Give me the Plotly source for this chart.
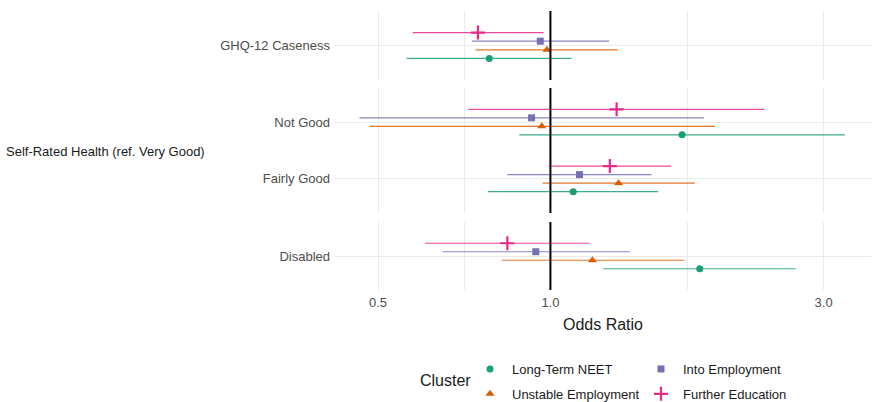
import numpy as np
import plotly.graph_objects as go

# ---------------- data ----------------
measures = ["GHQ-12 Caseness", "Not Good", "Fairly Good", "Disabled"]
measure_panel = [1, 2, 2, 3]          # facet row of each measure
measure_pos = [1, 2, 1, 1]            # position within facet (ggplot: bottom = 1)
panel_ncat = [1, 2, 1]                # categories in each facet

clusters = ["Long-Term NEET", "Unstable Employment", "Into Employment", "Further Education"]
colors = ["#1b9e77", "#d95f02", "#7570b3", "#e7298a"]
line_colors = ["rgba(27,158,119,0.85)", "rgba(217,95,2,0.85)", "rgba(117,112,179,0.85)", "rgba(231,41,138,0.85)"]
symbols = ["circle", "triangle-up", "square", "cross-thin"]
sizes = [7, 8, 7, 10]

# odds ratios (order of measures above)
or_neet = [0.782, 1.698, 1.096, 1.823]
lo_neet = [0.561, 0.882, 0.778, 1.237]
hi_neet = [1.089, 3.268, 1.543, 2.682]

or_unstable = [0.986, 0.966, 1.315, 1.184]
lo_unstable = [0.740, 0.483, 0.969, 0.822]
hi_unstable = [1.312, 1.938, 1.788, 1.712]

or_employ = [0.960, 0.927, 1.124, 0.943]
lo_employ = [0.729, 0.464, 0.841, 0.649]
hi_employ = [1.266, 1.855, 1.502, 1.376]

or_educ = [0.747, 1.305, 1.270, 0.841]
lo_educ = [0.575, 0.719, 0.993, 0.604]
hi_educ = [0.973, 2.365, 1.625, 1.170]

ors = [or_neet, or_unstable, or_employ, or_educ]
los = [lo_neet, lo_unstable, lo_employ, lo_educ]
his = [hi_neet, hi_unstable, hi_employ, hi_educ]

xticks = [0.5, 1.0, 3.0]
xticklabels = ["0.5", "1.0", "3.0"]
minor_x = [np.sqrt(0.5), np.sqrt(3.0)]

# ---------------- layout geometry ----------------
W, H = 872, 402
ML, MR, MT, MB = 335, 1, 11, 112
PW = W - ML - MR
PH = H - MT - MB

def px_x(px):
    return (px - ML) / PW

def px_y(py):
    return (H - MB - py) / PH

panel_px = [(11, 80), (88, 213), (222, 290)]   # top, bottom pixel of each facet
FONT = "Liberation Sans, Arial, sans-serif"

dodge_w = 0.6
n = len(clusters)
offsets = [(-dodge_w / 2 + dodge_w / n * (i + 0.5)) for i in range(n)]

fig = go.Figure()

for ci, cl in enumerate(clusters):
    legend_name = "legend" if ci in (0, 1) else "legend2"
    first = True
    for p in range(1, 4):
        idx = [m for m in range(len(measures)) if measure_panel[m] == p]
        xs = [ors[ci][m] for m in idx]
        ys = [measure_pos[m] + offsets[ci] for m in idx]
        plus = [his[ci][m] - ors[ci][m] for m in idx]
        minus = [ors[ci][m] - los[ci][m] for m in idx]
        yname = "y" if p == 1 else f"y{p}"
        xname = "x" if p == 1 else f"x{p}"
        fig.add_trace(go.Scatter(
            x=xs, y=ys, mode="markers", name=cl,
            xaxis=xname, yaxis=yname,
            legendgroup=cl, showlegend=first, legend=legend_name,
            marker=dict(symbol=symbols[ci], size=sizes[ci], color=colors[ci],
                        line=dict(width=2.2 if symbols[ci] == "cross-thin" else 0, color=colors[ci])),
            error_x=dict(type="data", symmetric=False, array=plus, arrayminus=minus,
                         color=line_colors[ci], thickness=1.2, width=0),
        ))
        first = False

rng = [np.log10(0.4205), np.log10(3.63)]
layout = dict(
    width=W, height=H,
    margin=dict(l=ML, r=MR, t=MT, b=MB, autoexpand=False),
    paper_bgcolor="white", plot_bgcolor="white",
    font=dict(family=FONT, size=13, color="#4d4d4d"),
    showlegend=True,
)
for p in range(1, 4):
    top, bot = panel_px[p - 1]
    ysuf = "" if p == 1 else str(p)
    cats = [m for m in range(len(measures)) if measure_panel[m] == p]
    layout["yaxis" + ysuf] = dict(
        domain=[px_y(bot), px_y(top)],
        anchor="x" + ysuf,
        range=[0.4, panel_ncat[p - 1] + 0.6],
        tickmode="array",
        tickvals=[measure_pos[m] for m in cats],
        ticktext=[measures[m] for m in cats],
        showgrid=True, gridcolor="#ebebeb", gridwidth=1,
        zeroline=False, showline=False, ticks="",
        ticklabelstandoff=4, automargin=False,
        tickfont=dict(size=13, color="#4d4d4d"),
    )
    layout["xaxis" + ysuf] = dict(
        type="log", range=rng,
        anchor="y" + ysuf,
        domain=[0, 1], automargin=False,
        tickmode="array", tickvals=xticks, ticktext=xticklabels,
        showticklabels=(p == 3),
        showgrid=True, gridcolor="#ebebeb", gridwidth=1,
        minor=dict(tickmode="array", tickvals=minor_x, showgrid=True, gridcolor="#ebebeb", gridwidth=0.6, ticks=""),
        zeroline=False, showline=False, ticks="",
        ticklabelstandoff=3,
        tickfont=dict(size=13, color="#4d4d4d"),
    )
    if p > 1:
        layout["xaxis" + ysuf]["matches"] = "x"

layout["xaxis3"]["title"] = dict(text="Odds Ratio", font=dict(size=16, color="#1a1a1a"), standoff=9)

legend_common = dict(
    orientation="v", bgcolor="rgba(0,0,0,0)",
    font=dict(size=13, color="#1a1a1a"),
    xanchor="left", yanchor="top", tracegroupgap=5, itemwidth=34,
    xref="paper", yref="paper",
)
layout["legend"] = dict(legend_common, x=px_x(468), y=px_y(354))
layout["legend2"] = dict(legend_common, x=px_x(639), y=px_y(354))

fig.update_layout(**layout)

# reference line at OR = 1 in every facet
for p in range(1, 4):
    ysuf = "" if p == 1 else str(p)
    fig.add_shape(type="line", xref="x" + ysuf, yref=("y" + ysuf) + " domain",
                  x0=1, x1=1, y0=0, y1=1, line=dict(color="#000000", width=2), layer="above")

fig.add_annotation(text="Self-Rated Health (ref. Very Good)", xref="paper", yref="paper",
                   x=px_x(4), y=px_y(151), xanchor="left", yanchor="middle", showarrow=False,
                   font=dict(size=13, color="#1a1a1a"))
fig.add_annotation(text="Cluster", xref="paper", yref="paper",
                   x=px_x(418), y=px_y(380), xanchor="left", yanchor="middle", showarrow=False,
                   font=dict(size=16, color="#1a1a1a"))

fig.write_html("out.html", config={"displayModeBar": False},
               post_script="document.body.style.margin='0px';")
